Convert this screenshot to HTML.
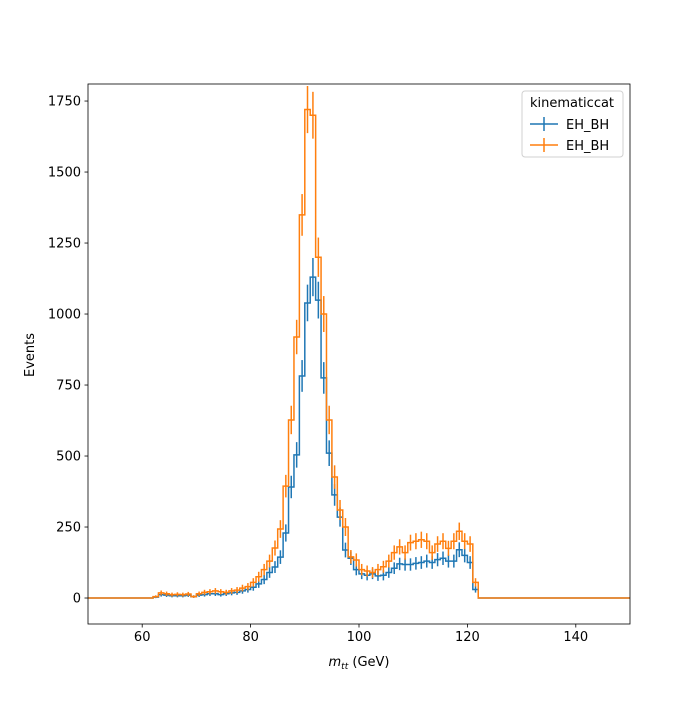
<!DOCTYPE html>
<html><head><meta charset="utf-8"><style>
body{margin:0;background:#fff;font-family:"Liberation Sans","DejaVu Sans",sans-serif}
svg text{font-family:"DejaVu Sans","Liberation Sans",sans-serif;font-size:13px;fill:#000}
</style></head><body>
<svg id="chart" width="700" height="700" viewBox="0 0 700 700" xmlns="http://www.w3.org/2000/svg">
<rect width="700" height="700" fill="#fff"/>
<g id="plot"></g>
<g id="axes"></g>
<text x="359" y="666" text-anchor="middle"><tspan font-style="italic">m</tspan><tspan font-style="italic" font-size="9" dy="3">tt</tspan><tspan dy="-3"> (GeV)</tspan></text>
<text transform="translate(34,355) rotate(-90)" text-anchor="middle">Events</text>
<g>
<rect x="522" y="91" width="101" height="66" rx="3" fill="#fff" stroke="#ccc" opacity="0.9"/>
<text x="572" y="107" text-anchor="middle">kinematiccat</text>
<g><line x1="530" y1="124" x2="558" y2="124" stroke="#1f77b4" stroke-width="1.5"/><line x1="544" y1="117" x2="544" y2="131" stroke="#1f77b4" stroke-width="1.5"/><text x="566" y="129">EH_BH</text></g>
<g><line x1="530" y1="145" x2="558" y2="145" stroke="#ff7f0e" stroke-width="1.5"/><line x1="544" y1="138" x2="544" y2="152" stroke="#ff7f0e" stroke-width="1.5"/><text x="566" y="150">EH_BH</text></g>
</g>
</svg>
<script>
const binStart = 62;
const blueValues = [3,12,10,8,8,8,10,5,10,12,15,15,12,15,18,20,25,30,38,50,65,90,109,144,229,391,504,782,1039,1130,1049,775,510,363,285,169,140,100,85,80,85,78,80,90,105,120,118,118,122,125,130,125,135,140,130,130,170,150,125,30];
const orangeValues = [5,18,15,12,13,12,14,5,15,20,22,25,22,20,25,28,35,40,55,75,100,130,176,243,394,627,919,1349,1720,1700,1200,1000,627,426,310,250,145,134,100,95,90,100,110,130,160,180,160,195,200,205,200,160,190,200,175,200,235,200,190,55];
const xTicks = [60,80,100,120,140];
const yTicks = [0,250,500,750,1000,1250,1500,1750];
const L=88,R=630,T=84,B=624,X0=50,X1=150,Y0=-91.5,Y1=1810;
const sx=v=>L+(v-X0)/(X1-X0)*(R-L);
const sy=v=>B-(v-Y0)/(Y1-Y0)*(B-T);
const NS="http://www.w3.org/2000/svg";
const plot=document.getElementById('plot'), axes=document.getElementById('axes');
function mk(tag,attrs,parent){const e=document.createElementNS(NS,tag);for(const k in attrs)e.setAttribute(k,attrs[k]);parent.appendChild(e);return e;}
const clip=mk('clipPath',{id:'c'},plot);mk('rect',{x:L,y:T,width:R-L,height:B-T},clip);
function series(vals,color,name){
  const g=mk('g',{'clip-path':'url(#c)'},plot);
  
  
  let d='M'+sx(X0)+','+sy(0)+' H'+sx(binStart);
  vals.forEach((v,i)=>{d+=' V'+sy(v)+' H'+sx(binStart+i+1);});
  d+=' V'+sy(0)+' H'+sx(X1);
  mk('path',{d:d,fill:'none',stroke:color,'stroke-width':1.5},g);
  vals.forEach((v,i)=>{const e=2*Math.sqrt(v);const cx=sx(binStart+i+0.5);
    const l=mk('line',{x1:cx,x2:cx,y1:sy(v-e),y2:sy(v+e),stroke:color,'stroke-width':1.5},g);
    
    
  });
}
series(blueValues,'#1f77b4','series-blue');
series(orangeValues,'#ff7f0e','series-orange');
const frame=mk('rect',{x:L,y:T,width:R-L,height:B-T,fill:'none',stroke:'#000','stroke-width':0.8},axes);


xTicks.forEach(t=>{const x=sx(t);mk('line',{x1:x,x2:x,y1:B,y2:B+3.5,stroke:'#000','stroke-width':0.8},axes);
  const tx=mk('text',{x:x,y:B+17,'text-anchor':'middle'},axes);tx.textContent=t;
  
  });
yTicks.forEach(t=>{const y=sy(t);mk('line',{x1:L-3.5,x2:L,y1:y,y2:y,stroke:'#000','stroke-width':0.8},axes);
  const tx=mk('text',{x:L-7,y:y+4.5,'text-anchor':'end'},axes);tx.textContent=t;
  
  });
</script>
</body></html>
